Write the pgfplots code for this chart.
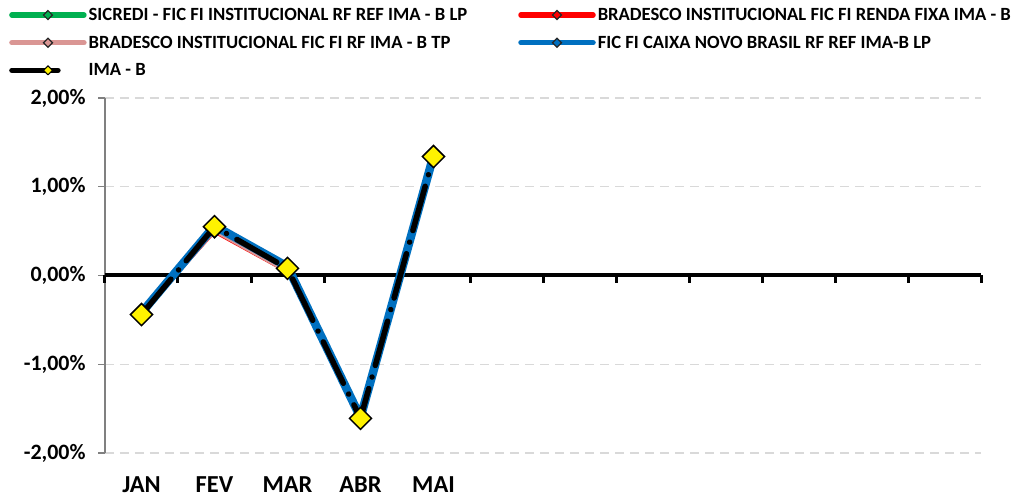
\documentclass[border=0pt]{standalone}
\usepackage{fontspec}
\setmainfont{Carlito}
\usepackage{pgfplots}
\pgfplotsset{compat=1.18}
\definecolor{sgreen}{HTML}{00B050}
\definecolor{bred}{HTML}{FF0000}
\definecolor{bpink}{HTML}{DA9694}
\definecolor{cblue}{HTML}{0070C0}
\definecolor{gridgray}{HTML}{D9D9D9}

\pgfplotstableread{
x sicredi bradrf bradtp caixa imab
1 -0.45 -0.44 -0.44 -0.42 -0.44
2  0.52  0.48  0.50  0.56  0.55
3  0.05  0.03  0.04  0.10  0.08
4 -1.62 -1.65 -1.64 -1.60 -1.61
5  1.30  1.30  1.31  1.35  1.34
}\rets

% legend sample: thick line with small diamond in the middle
\newcommand{\legline}[2]{%
  \draw[line width=5.5bp,#1,line cap=round] (0bp,0bp) -- (72bp,0bp);
  \draw[line width=1.2bp,black!85,fill=#2] (36bp,-4.5bp) -- (40.5bp,0bp) -- (36bp,4.5bp) -- (31.5bp,0bp) -- cycle;}

\begin{document}
\begin{tikzpicture}
\begin{axis}[
    name=ax,
    scale only axis,
    width=876bp, height=355bp,
    xmin=0.5, xmax=12.5,
    ymin=-2, ymax=2,
    ytick={-2,-1,0,1,2},
    xtick={1,2,3,4,5},
    xticklabels={JAN,FEV,MAR,ABR,MAI},
    axis lines=left,
    x axis line style={draw=none},
    y axis line style={draw=gray,line width=1.2bp,-},
    xtick style={draw=none},
    ytick style={draw=gray,line width=1.2bp},
    tick align=outside,
    major tick length=7bp,
    ymajorgrids,
    grid style={gridgray,line width=1.5bp,dash pattern=on 9bp off 6bp},
    font=\bfseries,
    tick label style={font=\fontsize{22}{24}\selectfont\bfseries},
    yticklabel style={xshift=-9bp},
    xticklabel style={yshift=-13bp,font=\fontsize{24.5}{26}\selectfont\bfseries},
    yticklabel={\pgfmathprintnumber[fixed,fixed zerofill,precision=2,use comma,assume math mode=true]{\tick}\%},
    clip=false,
    legend columns=2,
    legend cell align=left,
    legend style={draw=none,fill=none,at={(0,1)},anchor=north west,
      xshift=-99bp,yshift=94bp,
      font=\fontsize{18.7}{20}\selectfont\bfseries,
      row sep=10bp,
      /tikz/every even column/.append style={column sep=49bp}},
]
% zero line with category ticks
\draw[black,line width=4bp] (axis cs:0.5,0) -- (axis cs:12.5,0);
\pgfplotsinvokeforeach{0,...,12}{
  \draw[black,line width=3bp] (axis cs:#1.5,0) -- ++(0pt,-8bp);
}
\addplot[sgreen,line width=1.5bp,mark=square*,mark size=3.2bp,
  mark options={rotate=45,fill=sgreen,draw=black!85,line width=1bp},
  legend image code/.code={\legline{sgreen}{sgreen}}]
  table[x=x,y=sicredi]{\rets};
\addlegendentry{SICREDI - FIC FI INSTITUCIONAL RF REF IMA - B LP}
\addplot[bred,line width=1.5bp,mark=square*,mark size=3.2bp,
  mark options={rotate=45,fill=bred,draw=black!85,line width=1bp},
  legend image code/.code={\legline{bred}{bred}}]
  table[x=x,y=bradrf]{\rets};
\addlegendentry{BRADESCO INSTITUCIONAL FIC FI RENDA FIXA IMA - B}
\addplot[bpink,line width=3bp,mark=square*,mark size=3.2bp,
  mark options={rotate=45,fill=bpink,draw=black!85,line width=1bp},
  legend image code/.code={\legline{bpink}{bpink}}]
  table[x=x,y=bradtp]{\rets};
\addlegendentry{BRADESCO INSTITUCIONAL FIC FI RF IMA - B TP}
\addplot[cblue,line width=8.5bp,mark=square*,mark size=3.2bp,
  mark options={rotate=45,fill=cblue,draw=black!85,line width=1bp},
  legend image code/.code={\legline{cblue}{cblue}}]
  table[x=x,y=caixa]{\rets};
\addlegendentry{FIC FI CAIXA NOVO BRASIL RF REF IMA-B LP}
\addplot[black,line width=5.5bp,line cap=round,
  dash pattern=on 46bp off 12bp on 0.01bp off 12bp,
  mark=square*,mark size=7.8bp,
  mark options={rotate=45,fill=yellow,draw=black,line width=1.5bp,solid},
  legend image code/.code={%
    \draw[line width=5.5bp,black,line cap=round] (0bp,0bp) -- (52bp,0bp);
    \draw[line width=1bp,black,fill=yellow] (36bp,-4.5bp) -- (40.5bp,0bp) -- (36bp,4.5bp) -- (31.5bp,0bp) -- cycle;}]
  table[x=x,y=imab]{\rets};
\addlegendentry{IMA - B}
\end{axis}
\pgfresetboundingbox
\path (ax.south west) ++(-105bp,-45bp) rectangle ++(1013bp,498bp);
\end{tikzpicture}
\end{document}
